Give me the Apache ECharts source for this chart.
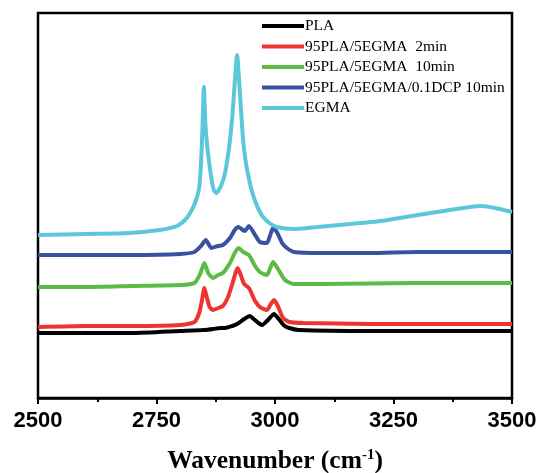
<!DOCTYPE html>
<html><head><meta charset="utf-8">
<script src="https://cdn.jsdelivr.net/npm/echarts@6/dist/echarts.min.js"></script>
<style>html,body{margin:0;padding:0;background:#fff}#c{width:541px;height:473px}</style>
</head><body><div id="c"></div>
<script>
const seriesNames = ['PLA', '95PLA/5EGMA  2min', '95PLA/5EGMA  10min', '95PLA/5EGMA/0.1DCP 10min', 'EGMA'];
const xTicks = [2500, 2750, 3000, 3250, 3500];
const PLA = [[2500,65],[2600,65],[2700,65],[2800,67],[2850,68],[2870,69],[2884,70],[2895,70],[2910,72],[2920,74],[2935,79],[2947,82],[2955,79],[2965,75],[2973,73],[2985,78],[2998,84],[3008,79],[3018,73],[3030,70],[3050,68],[3200,67],[3350,67],[3500,67]];
const EG2 = [[2500,71],[2600,72],[2700,72],[2800,73],[2830,76],[2840,85],[2846,98],[2851,110],[2856,101],[2862,91],[2869,88],[2880,90],[2890,92],[2900,100],[2910,114],[2916,124],[2921,130],[2927,124],[2935,114],[2945,110],[2958,97],[2968,91],[2983,88],[2990,93],[2998,98],[3006,92],[3017,80],[3030,76],[3060,75],[3200,74],[3350,74],[3500,74]];
const EG10 = [[2500,111],[2600,111],[2700,112],[2800,113],[2830,115],[2842,124],[2851,135],[2859,125],[2869,120],[2880,123],[2890,125],[2905,135],[2915,145],[2923,150],[2933,146],[2945,143],[2958,132],[2968,126],[2983,123],[2990,130],[2996,136],[3005,130],[3021,118],[3040,114],[3100,114],[3300,115],[3500,115]];
const DCP = [[2500,143],[2600,143],[2700,143],[2800,144],[2830,146],[2844,152],[2854,158],[2866,150],[2880,152],[2890,153],[2905,160],[2915,168],[2923,171],[2936,167],[2945,172],[2958,163],[2968,156],[2983,155],[2990,163],[2996,170],[3005,165],[3015,155],[3025,150],[3040,146],[3100,145],[3200,145],[3300,146],[3500,146]];
const EGMA = [[2500,163],[2600,164],[2694,165],[2757,168],[2793,172],[2810,178],[2821,185],[2832,196],[2840,210],[2844,235],[2847,270],[2850,311],[2853,275],[2857,252],[2865,222],[2871,208],[2876,205],[2884,210],[2890,217],[2895,226],[2900,240],[2905,258],[2910,282],[2915,315],[2920,343],[2925,312],[2932,262],[2937,240],[2943,224],[2950,209],[2958,197],[2967,187],[2975,181],[2988,175],[3004,171],[3038,169],[3089,171],[3158,174],[3222,177],[3327,185],[3411,191],[3437,192],[3464,190],[3500,186]];
const colors = ['#000000', '#EE3330', '#5CBB45', '#3A50A1', '#5CC7DA'];
const allData = [PLA, EG2, EG10, DCP, EGMA];

const chart = echarts.init(document.getElementById('c'));
chart.setOption({
  animation: false,
  grid: {left: 38, right: 29, top: 13, bottom: 75, outerBoundsMode: 'none', containLabel: false, show: true, borderColor: '#000', borderWidth: 2.5},
  legend: {
    orient: 'vertical', left: 262, top: 18, padding: 0, itemGap: 4.5,
    itemWidth: 42, itemHeight: 4, icon: 'rect',
    data: seriesNames,
    textStyle: {fontFamily: 'Liberation Serif', fontSize: 15.5, color: '#000', lineHeight: 16, padding: [0,0,0,-4]}
  },
  xAxis: {
    type: 'value', min: xTicks[0], max: xTicks[xTicks.length-1], interval: 250,
    axisLine: {show: true, lineStyle: {color: '#000', width: 2.5}},
    axisTick: {show: true, length: 6, lineStyle: {color: '#000', width: 2}},
    minorTick: {show: true, splitNumber: 2, length: 4, lineStyle: {color: '#000', width: 2}},
    splitLine: {show: false},
    axisLabel: {fontFamily: 'Liberation Sans', fontWeight: 'bold', fontSize: 22, color: '#000', margin: 12, formatter: v => String(v)},
    name: '{a|Wavenumber (cm}{s|-1}{a|)}', nameLocation: 'middle', nameGap: 50,
    nameTextStyle: {
      rich: {
        a: {fontFamily: 'Liberation Serif', fontWeight: 'bold', fontSize: 25.5, color: '#000'},
        s: {fontFamily: 'Liberation Serif', fontWeight: 'bold', fontSize: 15, color: '#000', padding: [0,0,11,0]}
      }
    }
  },
  yAxis: {type: 'value', min: 0, max: 385, show: false},
  series: allData.map((d, i) => ({
    name: seriesNames[i], type: 'line', data: d, showSymbol: false, smooth: 0.2,
    lineStyle: {color: colors[i], width: 4}, itemStyle: {color: colors[i]}
  }))
});
</script></body></html>
